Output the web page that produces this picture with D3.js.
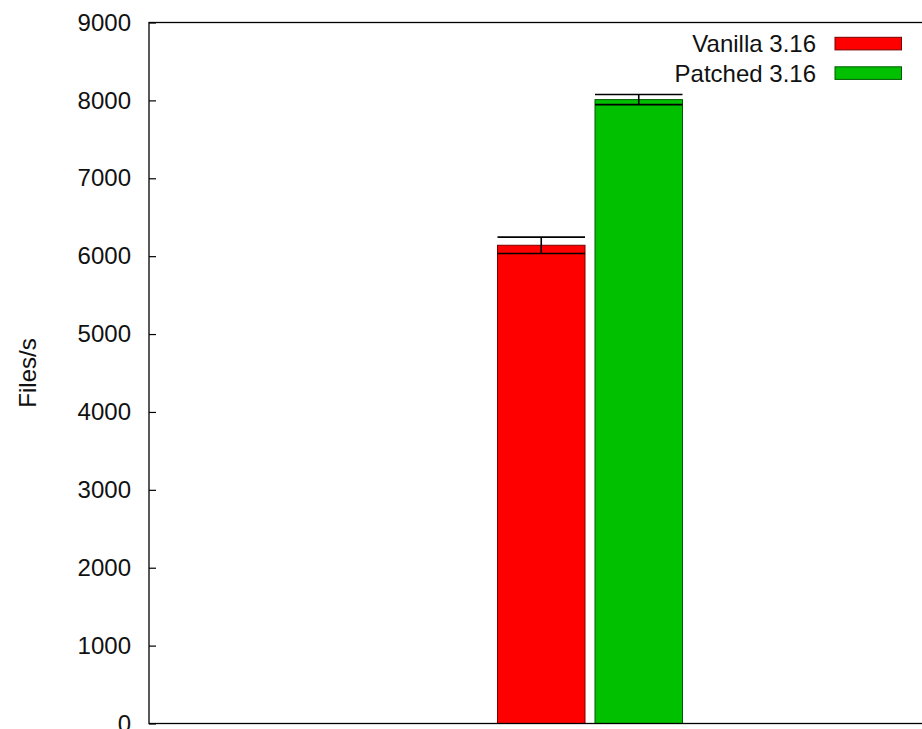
<!DOCTYPE html>
<html>
<head>
<meta charset="utf-8">
<script src="https://cdn.jsdelivr.net/npm/d3@7"></script>
<style>
  html, body { margin: 0; padding: 0; background: #fff; overflow: hidden; }
  svg { display: block; font-family: "Liberation Sans", Arial, sans-serif; }
</style>
</head>
<body>
<svg id="chart" width="922" height="729"></svg>
<script>
// Throughput benchmark: files per second, mean with error
const seriesNames = ["Vanilla 3.16", "Patched 3.16"];
const seriesValues = [6140, 8010];
const seriesErrors = [105, 65];
const seriesColors = ["#ff0000", "#00c000"];
const seriesStrokes = ["#7a0000", "#005a00"];
const yTicks = [0, 1000, 2000, 3000, 4000, 5000, 6000, 7000, 8000, 9000];
const yLabel = "Files/s";

const svg = d3.select("#chart");
const plot = { left: 149, top: 22.5, bottom: 723.5, right: 1031 };

const y = d3.scaleLinear().domain([0, 9000]).range([plot.bottom, plot.top]);
// single cluster centred at x = 0 on a [-1, 1] range
const x0 = d3.scaleLinear().domain([-1, 1]).range([plot.left, plot.right]);
const clusterHalf = 92.5;
const x1 = d3.scaleBand()
  .domain(seriesNames)
  .range([x0(0) - clusterHalf, x0(0) + clusterHalf])
  .paddingInner(0.1026);

const rows = seriesNames.map((n, i) => ({
  name: n, value: seriesValues[i], err: seriesErrors[i],
  color: seriesColors[i], stroke: seriesStrokes[i]
}));

// bars
svg.append("g").selectAll("rect").data(rows).join("rect")
  .attr("x", d => x1(d.name))
  .attr("y", d => y(d.value))
  .attr("width", x1.bandwidth())
  .attr("height", d => y(0) - y(d.value))
  .attr("fill", d => d.color)
  .attr("stroke", d => d.stroke)
  .attr("stroke-width", 1);

// error bars
const eb = svg.append("g").attr("stroke", "#000").attr("stroke-width", 1.6);
rows.forEach(d => {
  const xl = x1(d.name), xr = xl + x1.bandwidth(), xc = xl + x1.bandwidth() / 2;
  eb.append("line").attr("x1", xc).attr("x2", xc)
    .attr("y1", y(d.value - d.err)).attr("y2", y(d.value + d.err));
  [d.value - d.err, d.value + d.err].forEach(v => {
    eb.append("line").attr("x1", xl).attr("x2", xr)
      .attr("y1", y(v)).attr("y2", y(v));
  });
});

// y axis: inward ticks, labels to the left
const yAxis = d3.axisLeft(y).tickValues(yTicks).tickFormat(d3.format("d"))
  .tickSizeInner(-7).tickSizeOuter(0).tickPadding(18);
const ga = svg.append("g").attr("transform", `translate(${plot.left},0)`).call(yAxis);
ga.select(".domain").remove();
ga.selectAll(".tick line").attr("stroke", "#000").attr("stroke-width", 1.2);
ga.selectAll(".tick text")
  .attr("fill", "#111")
  .style("font-size", "24px")
  .style("font-family", "'Liberation Sans', Arial, sans-serif");

// plot border
svg.append("rect")
  .attr("x", plot.left).attr("y", plot.top)
  .attr("width", plot.right - plot.left).attr("height", plot.bottom - plot.top)
  .attr("fill", "none").attr("stroke", "#000").attr("stroke-width", 1.3);

// y label
svg.append("text")
  .attr("transform", `translate(27,${(plot.top + plot.bottom) / 2}) rotate(-90)`)
  .attr("text-anchor", "middle")
  .attr("dominant-baseline", "central")
  .attr("fill", "#111")
  .style("font-size", "24px")
  .text(yLabel);

// legend
const leg = svg.append("g");
rows.forEach((d, i) => {
  const cy = 43.6 + i * 29.5;
  leg.append("text")
    .attr("x", 816).attr("y", cy)
    .attr("text-anchor", "end")
    .attr("dominant-baseline", "central")
    .attr("fill", "#111")
    .style("font-size", "24px")
    .text(d.name);
  leg.append("rect")
    .attr("x", 835).attr("y", cy - 6.3)
    .attr("width", 66.5).attr("height", 12.6)
    .attr("fill", d.color).attr("stroke", d.stroke).attr("stroke-width", 1);
});
</script>
</body>
</html>
